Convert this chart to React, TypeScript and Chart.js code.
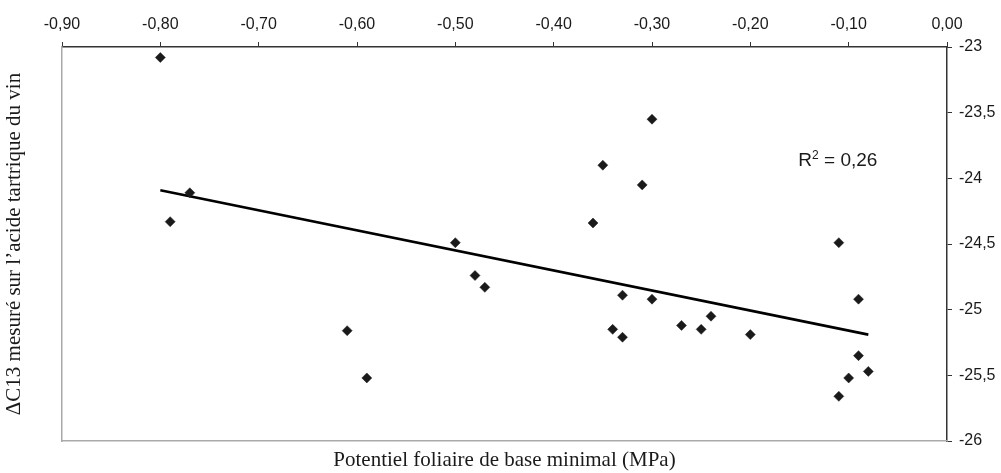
import React, { useEffect, useRef } from "react";
import { Chart, registerables } from "chart.js";

Chart.register(...registerables);

const pointX = [
  -0.80, -0.77, -0.79, -0.50, -0.48, -0.47, -0.61, -0.59,
  -0.30, -0.35, -0.31, -0.36, -0.11, -0.33, -0.30, -0.34,
  -0.33, -0.27, -0.25, -0.24, -0.20, -0.09, -0.09, -0.08,
  -0.10, -0.11,
];
const pointY = [
  -23.08, -24.11, -24.33, -24.49, -24.74, -24.83, -25.16, -25.52,
  -23.55, -23.90, -24.05, -24.34, -24.49, -24.89, -24.92, -25.15,
  -25.21, -25.12, -25.15, -25.05, -25.19, -24.92, -25.35, -25.47,
  -25.52, -25.66,
];
const trendX = [-0.80, -0.08];
const trendY = [-24.09, -25.19];

const xTicks = [-0.9, -0.8, -0.7, -0.6, -0.5, -0.4, -0.3, -0.2, -0.1, 0];
const yTicks = [-23, -23.5, -24, -24.5, -25, -25.5, -26];

const r2Main = "R";
const r2Sup = "2";
const r2Rest = " = 0,26";
const r2Anchor = [-0.111, -23.85];

const xTitle = "Potentiel foliaire de base minimal (MPa)";
const yTitle = "\u0394C13 mesur\u00E9 sur l\u2019acide tartrique du vin";

const SANS = "'Liberation Sans', Arial, sans-serif";
const SERIF = "'Liberation Serif', 'Times New Roman', serif";

export default function App() {
  const ref = useRef<HTMLCanvasElement | null>(null);

  useEffect(() => {
    if (!ref.current) return;
    const r2Plugin = {
      id: "r2",
      afterDatasetsDraw(chart: any) {
        const { ctx, scales } = chart;
        const px = scales.x.getPixelForValue(r2Anchor[0]);
        const py = scales.y.getPixelForValue(r2Anchor[1]);
        ctx.save();
        ctx.fillStyle = "#1a1a1a";
        ctx.textBaseline = "alphabetic";
        ctx.textAlign = "left";
        const big = `19px ${SANS}`;
        const small = `12px ${SANS}`;
        ctx.font = big;
        const wR = ctx.measureText(r2Main).width;
        const wRest = ctx.measureText(r2Rest).width;
        ctx.font = small;
        const wS = ctx.measureText(r2Sup).width;
        const total = wR + wS + wRest;
        const x0 = px - total / 2;
        const base = py + 7;
        ctx.font = big;
        ctx.fillText(r2Main, x0, base);
        ctx.font = small;
        ctx.fillText(r2Sup, x0 + wR, base - 7);
        ctx.font = big;
        ctx.fillText(r2Rest, x0 + wR + wS, base);
        ctx.restore();
      },
    };

    const chart = new Chart(ref.current, {
      type: "scatter",
      data: {
        datasets: [
          {
            label: "points",
            data: pointX.map((x, i) => ({ x, y: pointY[i] })),
            pointStyle: "rectRot",
            pointRadius: 5,
            backgroundColor: "#1a1a1a",
            borderColor: "#1a1a1a",
            borderWidth: 0.5,
            xAxisID: "x",
            yAxisID: "y",
          },
          {
            label: "trend",
            type: "line",
            data: trendX.map((x, i) => ({ x, y: trendY[i] })),
            borderColor: "#000",
            borderWidth: 2.6,
            pointRadius: 0,
            fill: false,
            xAxisID: "x",
            yAxisID: "y",
          } as any,
        ],
      },
      options: {
        responsive: false,
        animation: false,
        layout: { padding: 0 },
        plugins: {
          legend: { display: false },
          tooltip: { enabled: false },
          title: { display: false },
        },
        scales: {
          x: {
            type: "linear",
            position: "top",
            min: -0.9,
            max: 0,
            afterBuildTicks: (s: any) => {
              s.ticks = xTicks.map((v) => ({ value: v }));
            },
            ticks: {
              callback: (v: any) => Number(v).toFixed(2).replace(".", ","),
              font: { family: SANS, size: 16 },
              color: "#1a1a1a",
              padding: 8,
              maxRotation: 0,
              autoSkip: false,
            },
            grid: { drawOnChartArea: false, drawTicks: true, tickLength: 5, color: "#333", lineWidth: 1 },
            border: { color: "#333", width: 1.5 },
            afterFit: (s: any) => {
              s.height = 47;
            },
          },
          y: {
            type: "linear",
            position: "right",
            min: -26,
            max: -23,
            afterBuildTicks: (s: any) => {
              s.ticks = yTicks.map((v) => ({ value: v }));
            },
            ticks: {
              callback: (v: any) => String(v).replace(".", ","),
              font: { family: SANS, size: 16 },
              color: "#1a1a1a",
              padding: 7,
              autoSkip: false,
            },
            grid: { drawOnChartArea: false, drawTicks: true, tickLength: 5, color: "#333", lineWidth: 1 },
            border: { color: "#333", width: 1.5 },
            afterFit: (s: any) => {
              s.width = 54;
            },
          },
          xb: {
            type: "linear",
            position: "bottom",
            min: 0,
            max: 1,
            ticks: { display: false },
            grid: { drawOnChartArea: false, drawTicks: false },
            border: { color: "#aaa", width: 1.5 },
            title: {
              display: true,
              text: xTitle,
              font: { family: SERIF, size: 21 },
              color: "#1a1a1a",
              padding: { top: 0, bottom: 0 },
            },
            afterFit: (s: any) => {
              s.height = 32;
            },
          },
          yl: {
            type: "linear",
            position: "left",
            min: 0,
            max: 1,
            ticks: { display: false },
            grid: { drawOnChartArea: false, drawTicks: false },
            border: { color: "#aaa", width: 1.5 },
            title: {
              display: true,
              text: yTitle,
              font: { family: SERIF, size: 21 },
              color: "#1a1a1a",
              padding: { top: 2, bottom: 0 },
            },
            afterFit: (s: any) => {
              s.width = 62;
            },
          },
        },
      } as any,
      plugins: [r2Plugin],
    });
    return () => chart.destroy();
  }, []);

  return (
    <div style={{ position: "absolute", left: 0, top: 0, width: 1001, height: 473, background: "#fff" }}>
      <canvas ref={ref} width={1001} height={473} />
    </div>
  );
}
